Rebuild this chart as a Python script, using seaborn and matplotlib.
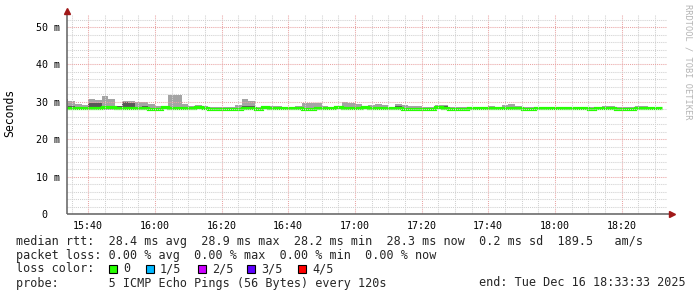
import numpy as np
import pandas as pd
import matplotlib
matplotlib.use("Agg")
import matplotlib.pyplot as plt
import seaborn as sns
from matplotlib.patches import Rectangle

# ---------------- data (ms, one value per 120 s step, first step starts 15:32) ----------------
bin_start_min = 932          # 15:32 in minutes after midnight
step_min = 2                 # 120 s probe interval

median_rtt = [28.4, 28.4, 28.4, 28.4, 28.4, 28.4, 28.6, 28.6, 28.4, 28.4,
              28.4, 28.3, 28.3, 28.2, 28.2, 28.6, 28.4, 28.4, 28.4, 28.4,
              28.5, 28.4, 28.2, 28.2, 28.2, 28.2, 28.2, 28.3, 28.4, 28.2,
              28.5, 28.4, 28.4, 28.3, 28.3, 28.3, 28.2, 28.2, 28.3, 28.3,
              28.3, 28.5, 28.4, 28.4, 28.4, 28.5, 28.4, 28.4, 28.4, 28.4,
              28.3, 28.2, 28.2, 28.2, 28.2, 28.2, 28.6, 28.4, 28.2, 28.2,
              28.2, 28.3, 28.3, 28.3, 28.3, 28.3, 28.3, 28.3, 28.3, 28.2,
              28.2, 28.3, 28.3, 28.3, 28.3, 28.3, 28.3, 28.3, 28.3, 28.2,
              28.3, 28.3, 28.3, 28.2, 28.2, 28.2, 28.3, 28.3, 28.3, 28.3]

ping_max = [30.8, 30.3, 29.4, 29.1, 30.85, 30.6, 31.5, 30.85, 29.0, 30.3,
            30.1, 30.05, 30.05, 29.3, 28.8, 29.0, 31.9, 31.9, 29.4, 29.0,
            29.1, 28.9, 28.7, 28.6, 28.6, 28.7, 29.05, 30.85, 30.1, 28.7,
            28.9, 28.9, 28.9, 28.7, 28.7, 28.9, 29.6, 29.6, 29.8, 28.9,
            28.7, 28.9, 30.05, 29.8, 29.3, 28.9, 29.1, 29.5, 29.1, 28.7,
            29.3, 29.1, 28.9, 28.9, 28.7, 28.5, 29.1, 29.1, 28.7, 28.5,
            28.7, 28.7, 28.7, 28.7, 28.9, 28.7, 29.1, 29.5, 28.9, 28.5,
            28.5, 28.6, 28.6, 28.6, 28.6, 28.6, 28.6, 28.6, 28.6, 28.5,
            28.6, 28.8, 28.8, 28.5, 28.7, 28.7, 28.8, 28.8, 28.6, 28.6]

ping_q4 = [28.6, 29.0, 28.6, 28.6, 29.8, 29.8, 29.0, 28.8, 28.9, 30.0,
           29.8, 28.5, 28.9, 28.4, 28.4, 28.8, 28.6, 28.6, 28.6, 28.6,
           28.7, 28.6, 28.4, 28.4, 28.4, 28.4, 28.4, 28.8, 28.9, 28.4,
           28.7, 28.6, 28.6, 28.5, 28.5, 28.5, 28.4, 28.4, 28.5, 28.5,
           28.5, 28.7, 28.6, 28.6, 28.6, 28.7, 28.6, 28.6, 28.6, 28.6,
           28.8, 28.4, 28.4, 28.4, 28.4, 28.4, 29.0, 29.0, 28.4, 28.4,
           28.4, 28.5, 28.5, 28.5, 28.5, 28.5, 28.5, 28.5, 28.5, 28.4,
           28.4, 28.5, 28.5, 28.5, 28.5, 28.5, 28.5, 28.5, 28.5, 28.4,
           28.5, 28.5, 28.5, 28.4, 28.4, 28.4, 28.5, 28.5, 28.5, 28.5]

ping_q2 = [28.2, 28.2, 28.2, 28.2, 28.2, 28.2, 28.4, 28.4, 28.2, 28.2,
           28.2, 28.1, 28.1, 28.0, 28.0, 28.4, 27.9, 28.2, 28.2, 28.2,
           28.3, 28.2, 28.0, 28.0, 28.0, 28.0, 28.0, 28.1, 28.2, 28.0,
           28.3, 28.2, 28.2, 28.1, 28.1, 28.1, 28.0, 28.0, 28.1, 28.1,
           28.1, 28.3, 28.2, 28.2, 28.2, 28.3, 28.2, 28.2, 28.2, 28.2,
           28.1, 28.0, 28.0, 28.0, 28.0, 28.0, 28.4, 28.2, 28.0, 28.0,
           28.0, 28.1, 28.1, 28.1, 28.1, 28.1, 28.1, 28.1, 28.1, 28.0,
           28.0, 28.1, 28.1, 28.1, 28.1, 28.1, 28.1, 28.1, 28.1, 28.0,
           28.1, 28.1, 28.1, 28.0, 28.0, 28.0, 28.1, 28.1, 28.1, 28.1]

ping_min = [28.1, 28.1, 28.1, 28.1, 28.1, 27.85, 27.9, 27.9, 28.1, 28.1,
            27.9, 27.9, 28.0, 27.9, 27.9, 28.3, 27.8, 28.1, 28.1, 28.1,
            28.2, 28.1, 27.9, 27.9, 27.9, 27.9, 27.9, 28.0, 28.1, 27.9,
            28.2, 28.1, 28.1, 28.0, 28.0, 28.0, 27.9, 27.9, 28.0, 28.0,
            28.0, 28.2, 28.1, 28.1, 28.1, 28.2, 28.1, 28.1, 28.1, 28.1,
            28.0, 27.9, 27.9, 27.9, 27.9, 27.9, 28.3, 28.1, 27.9, 27.9,
            27.9, 28.0, 28.0, 28.0, 28.0, 28.0, 28.0, 28.0, 28.0, 27.9,
            27.9, 28.0, 28.0, 28.0, 28.0, 28.0, 28.0, 28.0, 28.0, 27.9,
            28.0, 28.0, 28.0, 27.9, 27.9, 27.9, 28.0, 28.0, 28.0, 28.0]

x_tick_labels = ["15:40", "16:00", "16:20", "16:40", "17:00", "17:20", "17:40", "18:00", "18:20"]
y_tick_values = [0, 10, 20, 30, 40, 50]
y_tick_labels = ["0  ", "10 m", "20 m", "30 m", "40 m", "50 m"]
view_start_min = 15 * 60 + 33 + 33 / 60
view_end_min = 18 * 60 + 33 + 33 / 60

line_rtt = "median rtt:  28.4 ms avg  28.9 ms max  28.2 ms min  28.3 ms now  0.2 ms sd  189.5   am/s"
line_loss = "packet loss: 0.00 % avg  0.00 % max  0.00 % min  0.00 % now"
loss_labels = ["0", "1/5", "2/5", "3/5", "4/5"]
loss_colors = ["#26ff00", "#00b8ff", "#cc00ff", "#5e00ff", "#ff0000"]
line_probe = "probe:       5 ICMP Echo Pings (56 Bytes) every 120s"
line_end = "end: Tue Dec 16 18:33:33 2025"

# ---------------- drawing ----------------
sns.set_style("white")
MONO = ["DejaVu Sans Mono", "DejaVu Sans"]
plt.rcParams["font.family"] = MONO

W, H = 697, 297
fig = plt.figure(figsize=(W / 100, H / 100), dpi=100)
ax = fig.add_axes([66.7 / W, (H - 214) / H, 600 / W, 200 / H])

n = len(median_rtt)
x_edges = bin_start_min + step_min * np.arange(n + 1)


def ext(a):
    a = np.asarray(a, dtype=float)
    return np.append(a, a[-1])


ax.fill_between(x_edges, ext(ping_min), ext(ping_max), step="post",
                color="#a4a4a4", lw=0, zorder=1)
ax.fill_between(x_edges, ext(ping_q2), ext(ping_q4), step="post",
                color="#585858", lw=0, zorder=1.1)

df = pd.DataFrame({"t": x_edges, "median": ext(median_rtt)})
sns.lineplot(data=df, x="t", y="median", ax=ax, drawstyle="steps-post",
             color="#26ff00", lw=2.3, estimator=None, legend=False,
             solid_capstyle="butt", solid_joinstyle="miter", zorder=2)

ax.set_xlim(view_start_min, view_end_min)
ax.set_ylim(0, 53.5)

major_x = [int(s[:2]) * 60 + int(s[3:]) for s in x_tick_labels]
ax.set_xticks(major_x)
ax.set_xticklabels(x_tick_labels)
ax.set_xticks(np.arange(935, view_end_min, 5), minor=True)
ax.set_yticks(y_tick_values)
ax.set_yticklabels(y_tick_labels)
ax.set_yticks(np.arange(0, 53.5, 2), minor=True)

ax.set_axisbelow(False)
ax.grid(which="minor", color="#d0d0d0", ls=(0, (1, 1)), lw=0.75, zorder=3)
ax.grid(which="major", color="#e9a4a4", ls=(0, (1, 1)), lw=0.75, zorder=3)

ax.tick_params(which="both", length=2, width=0.7, color="#808080",
               labelsize=7.2, labelcolor="#000000", pad=3, direction="out")
ax.set_xlabel("")
ax.set_ylabel("")
for s in ax.spines.values():
    s.set_visible(False)

# axes with arrows
ax.plot([0, 1.008], [0, 0], transform=ax.transAxes, color="#606060", lw=1.1,
        clip_on=False, zorder=5, solid_capstyle="butt")
ax.plot([0, 0], [0, 1.015], transform=ax.transAxes, color="#606060", lw=1.1,
        clip_on=False, zorder=5, solid_capstyle="butt")
ax.plot([1.008], [0], marker=">", ms=4, color="#a01818", mec="#a01818",
        transform=ax.transAxes, clip_on=False, zorder=6)
ax.plot([0], [1.017], marker="^", ms=4, color="#a01818", mec="#a01818",
        transform=ax.transAxes, clip_on=False, zorder=6)


def fx(x):
    return x / W


def fy(y):
    return 1 - y / H


fig.text(fx(10), fy(113), "Seconds", rotation=90, ha="center", va="center",
         fontsize=8.3, family=MONO, color="#000000")
fig.text(fx(688), fy(4), "RRDTOOL / TOBI OETIKER", rotation=270, ha="center",
         va="top", fontsize=6.2, family=MONO, color="#b4b4b4")

TXT = 8.5
fig.text(fx(16), fy(241), line_rtt, ha="left", va="center", fontsize=TXT, family=MONO)
fig.text(fx(16), fy(255), line_loss, ha="left", va="center", fontsize=TXT, family=MONO)
fig.text(fx(16), fy(269), "loss color:", ha="left", va="center", fontsize=TXT, family=MONO)
box_x = [108.5, 145.5, 197.5, 247.0, 298.0]
for bx, lab, col in zip(box_x, loss_labels, loss_colors):
    fig.patches.append(Rectangle((fx(bx), fy(273)), 8 / W, 8 / H,
                                 transform=fig.transFigure, facecolor=col,
                                 edgecolor="#000000", lw=0.8))
    fig.text(fx(bx + 14.5), fy(269), lab, ha="left", va="center", fontsize=TXT, family=MONO)
fig.text(fx(16), fy(283), line_probe, ha="left", va="center", fontsize=TXT, family=MONO)
fig.text(fx(686), fy(283), line_end, ha="right", va="center", fontsize=TXT, family=MONO)

fig.savefig("out.png", dpi=100, facecolor="white")
